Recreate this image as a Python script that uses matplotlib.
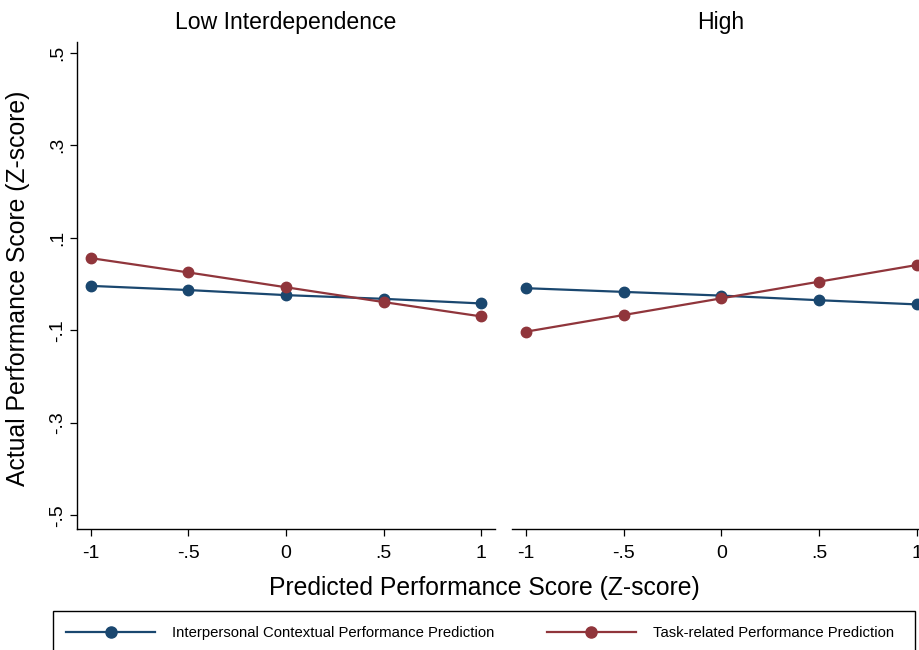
import matplotlib
matplotlib.use("Agg")
import matplotlib.pyplot as plt
from matplotlib.lines import Line2D
from matplotlib.patches import Rectangle

plt.rcParams['font.family'] = ['Liberation Sans', 'DejaVu Sans']

# predicted score levels and fitted actual scores per panel
x_levels = [-1, -0.5, 0, 0.5, 1]
low_interpersonal = [-0.004, -0.013, -0.024, -0.032, -0.042]
low_task = [0.056, 0.025, -0.007, -0.039, -0.070]
high_interpersonal = [-0.009, -0.017, -0.025, -0.035, -0.044]
high_task = [-0.103, -0.067, -0.031, 0.005, 0.041]

panel_titles = ["Low Interdependence", "High"]
series_names = ["Interpersonal Contextual Performance Prediction",
                "Task-related Performance Prediction"]
x_ticklabels = ["-1", "-.5", "0", ".5", "1"]
y_ticks = [-0.5, -0.3, -0.1, 0.1, 0.3, 0.5]
y_ticklabels = ["-.5", "-.3", "-.1", ".1", ".3", ".5"]

navy = "#1a476f"
maroon = "#90353b"

fig = plt.figure(figsize=(9.2, 6.5), dpi=100)
ax_low = fig.add_axes([0.0837, 0.1857, 0.4543, 0.7497])
ax_high = fig.add_axes([0.5568, 0.1857, 0.4543, 0.7497])

panels = [(ax_low, low_interpersonal, low_task),
          (ax_high, high_interpersonal, high_task)]

for ax, blue_vals, red_vals in panels:
    ax.plot(x_levels, blue_vals, color=navy, lw=1.6, marker="o", ms=7.5)
    ax.plot(x_levels, red_vals, color=maroon, lw=1.6, marker="o", ms=7.5)
    ax.set_xlim(-1.07, 1.07)
    ax.set_ylim(-0.530, 0.523)
    ax.set_xticks(x_levels)
    ax.set_xticklabels(x_ticklabels, fontsize=14)
    for side in ["top", "right"]:
        ax.spines[side].set_visible(False)
    ax.spines["bottom"].set_linewidth(1.0)
    ax.spines["left"].set_linewidth(1.0)
    ax.tick_params(axis="x", length=5, width=0.9, pad=6)

ax_low.set_yticks(y_ticks)
ax_low.set_yticklabels(y_ticklabels, fontsize=14, rotation=90, va="center")
ax_low.tick_params(axis="y", length=5, width=0.9, pad=3)

ax_high.spines["left"].set_visible(False)
ax_high.set_yticks([])

# panel titles
fig.text(286 / 920, 1 - 22 / 650, panel_titles[0], ha="center", va="center", fontsize=16.6)
fig.text(721 / 920, 1 - 22 / 650, panel_titles[1], ha="center", va="center", fontsize=16.6)

# shared axis labels
fig.text(484 / 920, 1 - 588 / 650, "Predicted Performance Score (Z-score)",
         ha="center", va="center", fontsize=17.8)
fig.text(18 / 920, 1 - 288 / 650, "Actual Performance Score (Z-score)",
         ha="center", va="center", rotation=90, fontsize=17.8)

# legend box along the bottom
fig.patches.append(Rectangle((53 / 920, -0.02), (915 - 53) / 920, (650 - 611) / 650 + 0.02,
                             transform=fig.transFigure, fill=False, edgecolor="black",
                             lw=1.0))
handles = [Line2D([], [], color=navy, lw=1.6, marker="o", ms=8),
           Line2D([], [], color=maroon, lw=1.6, marker="o", ms=8)]
fig.legend(handles, series_names, loc="center left",
           bbox_to_anchor=(66 / 920, 1 - 633 / 650), ncol=2, frameon=False,
           fontsize=10.7, handlelength=6.0, handletextpad=1.15, columnspacing=3.5,
           borderpad=0, borderaxespad=0)

fig.savefig("out.png", dpi=100)
